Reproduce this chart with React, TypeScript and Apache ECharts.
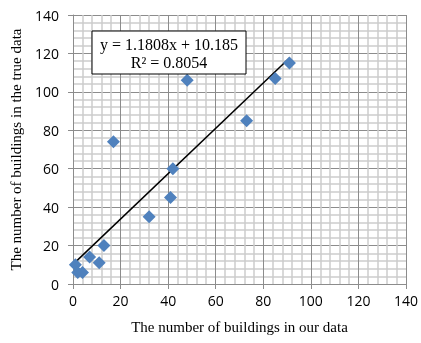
import React, { useEffect, useRef } from "react";
import * as echarts from "echarts";

const ourData = [1, 2, 4, 7, 11, 13, 17, 32, 41, 42, 48, 73, 85, 91];
const trueData = [10, 6, 6, 14, 11, 20, 74, 35, 45, 60, 106, 85, 107, 115];
const slope = 1.1808;
const intercept = 10.185;
const rSquared = 0.8054;
const xTicks = [0, 20, 40, 60, 80, 100, 120, 140];
const yTicks = [0, 20, 40, 60, 80, 100, 120, 140];

export default function App() {
  const ref = useRef<HTMLDivElement>(null);
  useEffect(() => {
    if (!ref.current) return;
    const chart = echarts.init(ref.current, null, { renderer: "svg" });
    const pts = ourData.map((x, i) => [x, trueData[i]]);
    const xmin = Math.min(...ourData);
    const xmax = Math.max(...ourData);
    const trend = [
      [xmin, slope * xmin + intercept],
      [xmax, slope * xmax + intercept],
    ];
    const serif = "'Liberation Serif', 'Times New Roman', serif";
    const sans = "'Open Sans', 'Liberation Sans', sans-serif";
    const axisCommon = (ticks: number[]) => ({
      type: "value" as const,
      min: ticks[0],
      max: ticks[ticks.length - 1],
      interval: ticks[1] - ticks[0],
      axisLine: { show: true, lineStyle: { color: "#8c8c8c", width: 1 } },
      axisTick: { show: true, length: 5, lineStyle: { color: "#8c8c8c" } },
      axisLabel: { color: "#000", fontFamily: sans, fontSize: 14 },
      splitLine: { show: true, lineStyle: { color: "#8c8c8c", width: 1 } },
      minorTick: { show: true, splitNumber: 5, length: 0 },
      minorSplitLine: { show: true, lineStyle: { color: "#cccccc", width: 1.5 } },
    });
    chart.setOption({
      animation: false,
      grid: { left: 73, right: 13, top: 15, bottom: 59 },
      xAxis: {
        ...axisCommon(xTicks),
        name: "The number of buildings in our data",
        nameLocation: "middle",
        nameGap: 35,
        nameTextStyle: { fontFamily: serif, fontSize: 15, color: "#000" },
        axisLabel: { color: "#000", fontFamily: sans, fontSize: 14, margin: 9 },
      },
      yAxis: {
        ...axisCommon(yTicks),
        name: "The number of buildings in the true data",
        nameLocation: "middle",
        nameGap: 50,
        nameRotate: 90,
        nameTextStyle: { fontFamily: serif, fontSize: 15, color: "#000" },
        axisLabel: { color: "#000", fontFamily: sans, fontSize: 14, margin: 14 },
      },
      series: [
        {
          type: "line",
          data: trend,
          symbol: "none",
          lineStyle: { color: "#000", width: 1.5 },
          z: 3,
        },
        {
          type: "scatter",
          data: pts,
          symbol: "diamond",
          symbolSize: 13,
          itemStyle: { color: "#4F81BD", opacity: 1 },
          z: 4,
        },
      ],
      graphic: [
        {
          type: "rect",
          x: 92,
          y: 31,
          shape: { x: 0, y: 0, width: 154, height: 43 },
          style: { fill: "#fff", stroke: "#000", lineWidth: 1 },
          z: 10,
        },
        {
          type: "text",
          x: 169,
          y: 35,
          style: {
            text: `y = ${slope}x + ${intercept}\nR² = ${rSquared}`,
            textAlign: "center",
            textVerticalAlign: "top",
            font: `16px ${serif}`,
            fill: "#000",
            lineHeight: 18,
          },
          z: 11,
        },
      ],
    });
    return () => chart.dispose();
  }, []);
  return (
    <div
      ref={ref}
      style={{ position: "fixed", left: 0, top: 0, width: 421, height: 343 }}
    />
  );
}
